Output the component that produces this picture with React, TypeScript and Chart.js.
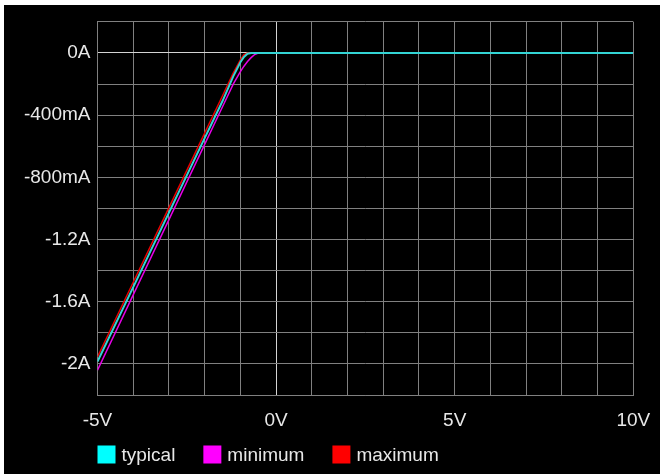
import React, { useEffect, useRef } from "react";
import { Chart, registerables } from "chart.js";

Chart.register(...registerables);

// ---- data ----
const voltages = [-5, -4, -3, -2, -1.5, -1.2, -1.0, -0.9, -0.8, -0.7, -0.6, -0.5, 0, 10];
const typical = [-1.985, -1.506, -1.027, -0.548, -0.309, -0.15, -0.06, -0.025, -0.005, 0, 0, 0, 0, 0];
const minimum = [-2.04, -1.556, -1.072, -0.588, -0.346, -0.2, -0.12, -0.085, -0.055, -0.03, -0.01, 0, 0, 0];
const maximum = [-1.955, -1.475, -0.995, -0.515, -0.275, -0.13, -0.045, -0.01, 0, 0, 0, 0, 0, 0];

const seriesLabels = ["typical", "minimum", "maximum"];
const lineColors = ["#33d4d4", "#e600e6", "#e60000"];
const lineWidths = [2, 1.5, 1.5];
const legendColors = ["#00ffff", "#ff00ff", "#ff0000"];

const xTickValues = [-5, 0, 5, 10];
const xTickLabels = ["-5V", "0V", "5V", "10V"];
const yTickValues = [0, -0.4, -0.8, -1.2, -1.6, -2];
const yTickLabels = ["0A", "-400mA", "-800mA", "-1.2A", "-1.6A", "-2A"];

const FONT_FAMILY = "'Liberation Sans', Arial, sans-serif";
const TEXT_COLOR = "#e8e8e8";
const GRID_COLOR = "#808080";
const ZERO_COLOR = "#d4d4d4";

const findLabel = (vals: number[], labels: string[], v: number) => {
  const i = vals.findIndex((t) => Math.abs(t - v) < 1e-6);
  return i >= 0 ? labels[i] : "";
};

const legendPlugin = {
  id: "customLegend",
  afterDraw(chart: any) {
    const ctx = chart.ctx;
    const left = chart.chartArea.left;
    const cy = 449.5;
    ctx.save();
    ctx.font = `19px ${FONT_FAMILY}`;
    ctx.textBaseline = "middle";
    ctx.textAlign = "left";
    let x = left;
    chart.data.datasets.forEach((ds: any, i: number) => {
      ctx.fillStyle = legendColors[i];
      ctx.fillRect(x, cy - 9, 18, 18);
      ctx.fillStyle = TEXT_COLOR;
      ctx.fillText(ds.label, x + 24, cy + 1);
      x += 24 + ctx.measureText(ds.label).width + 28;
    });
    ctx.restore();
  },
};

export default function App() {
  const ref = useRef<HTMLCanvasElement | null>(null);

  useEffect(() => {
    if (!ref.current) return;
    const series = [typical, minimum, maximum];
    const gridColor = (c: any) => (c.tick && Math.abs(c.tick.value) < 1e-9 ? ZERO_COLOR : GRID_COLOR);
    const chart = new Chart(ref.current, {
      type: "line",
      data: {
        datasets: series.map((vals, i) => ({
          label: seriesLabels[i],
          data: voltages.map((v, j) => ({ x: v, y: vals[j] })),
          borderColor: lineColors[i],
          backgroundColor: legendColors[i],
          borderWidth: lineWidths[i],
          pointRadius: 0,
          tension: 0,
          fill: false,
        })),
      },
      options: {
        animation: false,
        responsive: false,
        devicePixelRatio: 1,
        layout: { padding: { left: 0, top: 16.9, right: 26.7, bottom: 0 } },
        plugins: {
          legend: { display: false },
          tooltip: { enabled: false },
        },
        scales: {
          x: {
            type: "linear",
            min: -5,
            max: 10,
            ticks: {
              stepSize: 1,
              autoSkip: false,
              maxRotation: 0,
              color: TEXT_COLOR,
              font: { family: FONT_FAMILY, size: 19 },
              padding: 0,
              callback: (v: any) => findLabel(xTickValues, xTickLabels, Number(v)),
            },
            grid: {
              drawTicks: true,
              tickLength: 14,
              tickColor: "rgba(0,0,0,0)",
              lineWidth: 1,
              color: gridColor,
            },
            border: { display: true, color: GRID_COLOR },
            afterFit: (s: any) => {
              s.height = 79;
            },
          },
          y: {
            type: "linear",
            min: -2.2,
            max: 0.2,
            ticks: {
              stepSize: 0.2,
              autoSkip: false,
              color: TEXT_COLOR,
              font: { family: FONT_FAMILY, size: 19 },
              padding: 0,
              callback: (v: any) => findLabel(yTickValues, yTickLabels, Number(v)),
            },
            grid: {
              drawTicks: true,
              tickLength: 7,
              tickColor: "rgba(0,0,0,0)",
              lineWidth: 1,
              color: gridColor,
            },
            border: { display: true, color: GRID_COLOR },
            afterFit: (s: any) => {
              s.width = 93.5;
            },
          },
        },
      },
      plugins: [legendPlugin],
    });
    return () => chart.destroy();
  }, []);

  return (
    <div
      style={{
        position: "fixed",
        left: 4,
        top: 5,
        width: 656,
        height: 469,
        background: "#000",
      }}
    >
      <canvas ref={ref} width={656} height={469} style={{ display: "block" }} />
    </div>
  );
}
